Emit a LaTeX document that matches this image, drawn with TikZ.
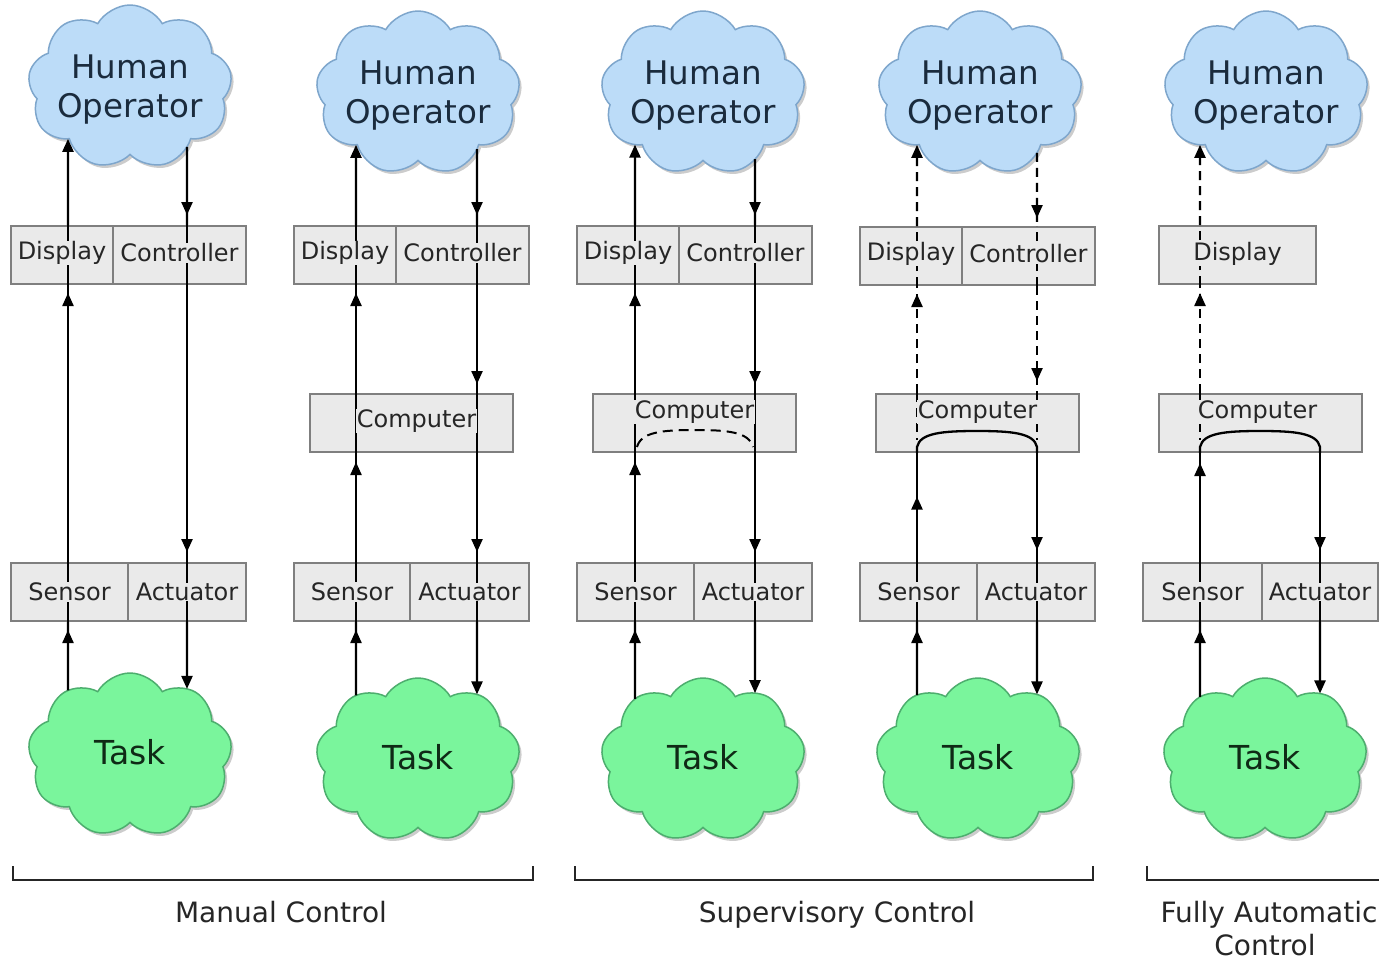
\documentclass[tikz,border=0pt]{standalone}
\usepackage{fontspec}
\setmainfont{DejaVu Sans}
\usetikzlibrary{shapes.symbols,arrows.meta,decorations.markings,intersections,shadows}

\definecolor{boxfill}{HTML}{EAEAEA}
\definecolor{boxline}{HTML}{7F7F7F}
\definecolor{hofill}{HTML}{BCDCF8}
\definecolor{holine}{HTML}{7EA6CC}
\definecolor{taskfill}{HTML}{7AF59C}
\definecolor{taskline}{HTML}{4DAE6E}
\definecolor{txt}{HTML}{262626}
\definecolor{hotxt}{HTML}{1A2B3D}
\definecolor{tasktxt}{HTML}{0F2A16}

\tikzset{
  cloudbase/.style={cloud, cloud puffs=9, cloud puff arc=120, aspect=1.25,
    minimum width=204pt, minimum height=164pt, inner sep=0pt, line width=1.5pt,
    drop shadow={shadow xshift=2.5pt, shadow yshift=-3pt, opacity=0.2, fill=black}},
  hocloud/.style={cloudbase, fill=hofill, draw=holine},
  taskcloud/.style={cloudbase, fill=taskfill, draw=taskline},
  hotext/.style={align=center, text=hotxt, font=\fontsize{32.5}{39}\selectfont},
  tasktext/.style={text=tasktxt, font=\fontsize{33}{39}\selectfont},
  box/.style={draw=boxline, fill=boxfill, line width=2pt, minimum height=58pt, inner sep=0pt},
  lbl/.style={fill=boxfill, inner sep=0.5pt, text=txt, font=\fontsize{24}{28}\selectfont},
  wire/.style={line width=2.3pt, draw=black},
  dwire/.style={wire, dash pattern=on 9pt off 6pt},
  tip/.style={-{Triangle[length=13pt,width=11pt]}},
  tipat/.style={decoration={markings, mark=at position #1 with {\arrow{Triangle[length=13pt,width=11pt]}}},
    postaction={decorate}},
  bracket/.style={line width=2.4pt, draw=black!85},
  caption/.style={text=txt, font=\fontsize{28}{33}\selectfont, anchor=base},
}

% points where a vertical wire at x=#2 meets cloud #1: #3t (top), #3b (bottom)
\newcommand\probecloud[3]{%
  \path[name path=probe] (#2,-20) -- (#2,980);
  \path[name intersections={of=#1 and probe, sort by=probe, by={#3t,#3b}}];}
% a wire segment running straight through a box
\newcommand\through[3]{\draw[#1] (#2.south -| #3) -- (#2.north -| #3);}

\begin{document}
\begin{tikzpicture}[x=1pt,y=-1pt]
\fill[white] (0,0) rectangle (1379,959);
\useasboundingbox (0,0) rectangle (1379,959);

% ---------------- clouds ----------------
\node[hocloud, name path=ho1] (ho1) at (130,87) {};
\node[hocloud, name path=ho2] (ho2) at (418,93) {};
\node[hocloud, name path=ho3] (ho3) at (703,93) {};
\node[hocloud, name path=ho4] (ho4) at (980,93) {};
\node[hocloud, name path=ho5] (ho5) at (1266,93) {};
\foreach \i in {1,...,5} {\node[hotext] (ho\i t) at ([yshift=-3pt]ho\i.center) {Human\\Operator};}

\node[taskcloud, name path=tk1] (tk1) at (130,755) {};
\node[taskcloud, name path=tk2] (tk2) at (418,760) {};
\node[taskcloud, name path=tk3] (tk3) at (703,760) {};
\node[taskcloud, name path=tk4] (tk4) at (978,760) {};
\node[taskcloud, name path=tk5] (tk5) at (1265,760) {};
\foreach \i in {1,...,5} {\node[tasktext] (tk\i t) at ([yshift=3pt]tk\i.center) {Task};}

% ---------------- boxes ----------------
\node[box, minimum width=102pt] (dp1) at (62,255) {};
\node[box, minimum width=133pt] (ct1) at (179.5,255) {};
\node[box, minimum width=117pt] (sn1) at (69.5,592) {};
\node[box, minimum width=118pt] (ac1) at (187,592) {};

\node[box, minimum width=102pt] (dp2) at (345,255) {};
\node[box, minimum width=133pt] (ct2) at (462.5,255) {};
\node[box, minimum width=203pt] (cp2) at (411.5,423) {};
\node[box, minimum width=116pt] (sn2) at (352,592) {};
\node[box, minimum width=119pt] (ac2) at (469.5,592) {};

\node[box, minimum width=102pt] (dp3) at (628,255) {};
\node[box, minimum width=133pt] (ct3) at (745.5,255) {};
\node[box, minimum width=203pt] (cp3) at (694.5,423) {};
\node[box, minimum width=117pt] (sn3) at (635.5,592) {};
\node[box, minimum width=118pt] (ac3) at (753,592) {};

\node[box, minimum width=102pt] (dp4) at (911,256) {};
\node[box, minimum width=133pt] (ct4) at (1028.5,256) {};
\node[box, minimum width=203pt] (cp4) at (977.5,423) {};
\node[box, minimum width=117pt] (sn4) at (918.5,592) {};
\node[box, minimum width=118pt] (ac4) at (1036,592) {};

\node[box, minimum width=157pt] (dp5) at (1237.5,255) {};
\node[box, minimum width=203pt] (cp5) at (1260.5,423) {};
\node[box, minimum width=119pt] (sn5) at (1202.5,592) {};
\node[box, minimum width=116pt] (ac5) at (1320,592) {};

% ---------------- wire positions ----------------
\coordinate (x1L) at (68,0);   \coordinate (x1R) at (187,0);
\coordinate (x2L) at (356,0);  \coordinate (x2R) at (477,0);
\coordinate (x3L) at (635,0);  \coordinate (x3R) at (755,0);
\coordinate (x4L) at (917,0);  \coordinate (x4R) at (1037,0);
\coordinate (x5L) at (1200,0); \coordinate (x5R) at (1320,0);

\probecloud{ho1}{68}{h1L}   \probecloud{ho1}{187}{h1R}
\probecloud{ho2}{356}{h2L}  \probecloud{ho2}{477}{h2R}
\probecloud{ho3}{635}{h3L}  \probecloud{ho3}{755}{h3R}
\probecloud{ho4}{917}{h4L}  \probecloud{ho4}{1037}{h4R}
\probecloud{ho5}{1200}{h5L}
\probecloud{tk1}{68}{k1L}   \probecloud{tk1}{187}{k1R}
\probecloud{tk2}{356}{k2L}  \probecloud{tk2}{477}{k2R}
\probecloud{tk3}{635}{k3L}  \probecloud{tk3}{755}{k3R}
\probecloud{tk4}{917}{k4L}  \probecloud{tk4}{1037}{k4R}
\probecloud{tk5}{1200}{k5L} \probecloud{tk5}{1320}{k5R}

% ---------------- column 1: manual, direct ----------------
\draw[wire, tipat=-8pt] (k1Lt) -- (sn1.south -| x1L);
\through{wire}{sn1}{x1L}
\draw[wire, tipat=-8pt] (sn1.north -| x1L) -- (dp1.south -| x1L);
\through{wire}{dp1}{x1L}
\draw[wire, tip] (dp1.north -| x1L) -- (h1Lb);

\draw[wire, tipat=-10pt] (h1Rb) -- (ct1.north -| x1R);
\through{wire}{ct1}{x1R}
\draw[wire, tipat=-10pt] (ct1.south -| x1R) -- (ac1.north -| x1R);
\through{wire}{ac1}{x1R}
\draw[wire, tip] (ac1.south -| x1R) -- (k1Rt);

% ---------------- column 2: manual, via computer ----------------
\draw[wire, tipat=-8pt] (k2Lt) -- (sn2.south -| x2L);
\through{wire}{sn2}{x2L}
\draw[wire, tipat=-9pt] (sn2.north -| x2L) -- (cp2.south -| x2L);
\through{wire}{cp2}{x2L}
\draw[wire, tipat=-8pt] (cp2.north -| x2L) -- (dp2.south -| x2L);
\through{wire}{dp2}{x2L}
\draw[wire, tip] (dp2.north -| x2L) -- (h2Lb);

\draw[wire, tipat=-10pt] (h2Rb) -- (ct2.north -| x2R);
\through{wire}{ct2}{x2R}
\draw[wire, tipat=-9pt] (ct2.south -| x2R) -- (cp2.north -| x2R);
\through{wire}{cp2}{x2R}
\draw[wire, tipat=-10pt] (cp2.south -| x2R) -- (ac2.north -| x2R);
\through{wire}{ac2}{x2R}
\draw[wire, tip] (ac2.south -| x2R) -- (k2Rt);

% ---------------- column 3: supervisory, optional inner loop ----------------
\draw[wire, tipat=-8pt] (k3Lt) -- (sn3.south -| x3L);
\through{wire}{sn3}{x3L}
\draw[wire, tipat=-9pt] (sn3.north -| x3L) -- (cp3.south -| x3L);
\through{wire}{cp3}{x3L}
\draw[wire, tipat=-8pt] (cp3.north -| x3L) -- (dp3.south -| x3L);
\through{wire}{dp3}{x3L}
\draw[wire, tip] (dp3.north -| x3L) -- (h3Lb);

\draw[wire, tipat=-10pt] (h3Rb) -- (ct3.north -| x3R);
\through{wire}{ct3}{x3R}
\draw[wire, tipat=-9pt] (ct3.south -| x3R) -- (cp3.north -| x3R);
\through{wire}{cp3}{x3R}
\draw[wire, tipat=-10pt] (cp3.south -| x3R) -- (ac3.north -| x3R);
\through{wire}{ac3}{x3R}
\draw[wire, tip] (ac3.south -| x3R) -- (k3Rt);

\draw[line width=2pt, dash pattern=on 10pt off 6pt]
  (637,447) .. controls (641,432) and (662,430) .. (695,430)
            .. controls (728,430) and (749,432) .. (753,447);

% ---------------- column 4: supervisory, closed inner loop ----------------
\draw[wire, tipat=-8pt] (k4Lt) -- (sn4.south -| x4L);
\through{wire}{sn4}{x4L}
\draw[wire, tipat=0.6] (sn4.north -| x4L) -- (cp4.south -| x4L);
\draw[wire] (cp4.south -| x4L) -- (917,447)
  .. controls (920,433) and (942,431) .. (977,431)
  .. controls (1012,431) and (1034,433) .. (1037,447) -- (cp4.south -| x4R);
\draw[dwire] (cp4.north -| x4L) -- (917,440);
\draw[dwire, tipat=-8pt] (cp4.north -| x4L) -- (dp4.south -| x4L);
\through{dwire}{dp4}{x4L}
\draw[dwire, tip] (dp4.north -| x4L) -- (h4Lb);

\draw[dwire, tipat=-8pt] (h4Rb) -- (ct4.north -| x4R);
\through{dwire}{ct4}{x4R}
\draw[dwire, tipat=-12pt] (ct4.south -| x4R) -- (cp4.north -| x4R);
\draw[dwire] (cp4.north -| x4R) -- (1037,440);
\draw[wire, tipat=-12pt] (cp4.south -| x4R) -- (ac4.north -| x4R);
\through{wire}{ac4}{x4R}
\draw[wire, tip] (ac4.south -| x4R) -- (k4Rt);

% ---------------- column 5: fully automatic ----------------
\draw[wire, tipat=-8pt] (k5Lt) -- (sn5.south -| x5L);
\through{wire}{sn5}{x5L}
\draw[wire, tipat=-10pt] (sn5.north -| x5L) -- (cp5.south -| x5L);
\draw[wire] (cp5.south -| x5L) -- (1200,447)
  .. controls (1203,433) and (1225,431) .. (1260,431)
  .. controls (1295,431) and (1317,433) .. (1320,447) -- (cp5.south -| x5R);
\draw[dwire] (cp5.north -| x5L) -- (1200,440);
\draw[dwire, tipat=-8pt] (cp5.north -| x5L) -- (dp5.south -| x5L);
\through{dwire}{dp5}{x5L}
\draw[dwire, tip] (dp5.north -| x5L) -- (h5Lb);

\draw[wire, tipat=-12pt] (cp5.south -| x5R) -- (ac5.north -| x5R);
\through{wire}{ac5}{x5R}
\draw[wire, tip] (ac5.south -| x5R) -- (k5Rt);

% ---------------- box labels ----------------
\foreach \i in {1,...,4} {
  \node[lbl] (dp\i l) at ([yshift=2pt]dp\i.center) {Display};
  \node[lbl] (ct\i l) at ([yshift=2pt]ct\i.center) {Controller};
}
\node[lbl] (dp5l) at ([yshift=1pt]dp5.center) {Display};
\node[lbl] (cp2l) at ([xshift=5pt,yshift=2pt]cp2.center) {Computer};
\node[lbl] (cp3l) at ([yshift=11pt]cp3.center) {Computer};
\node[lbl] (cp4l) at ([yshift=11pt]cp4.center) {Computer};
\node[lbl] (cp5l) at ([yshift=11pt,xshift=-3pt]cp5.center) {Computer};
\foreach \i in {1,...,5} {
  \node[lbl] (sn\i l) at (sn\i) {Sensor};
  \node[lbl] (ac\i l) at (ac\i) {Actuator};
}

% ---------------- brackets and captions ----------------
\draw[bracket] (13,866) -- (13,880) -- (533,880) -- (533,866);
\draw[bracket] (575,866) -- (575,880) -- (1093,880) -- (1093,866);
\draw[bracket] (1147,866) -- (1147,880) -- (1390,880);
\node[caption] (cap1) at (281,922) {Manual Control};
\node[caption] (cap2) at (837,922) {Supervisory Control};
\node[caption] (cap3) at (1269,922) {Fully Automatic};
\node[caption] (cap3b) at (1265,955) {Control};
\end{tikzpicture}
\end{document}
